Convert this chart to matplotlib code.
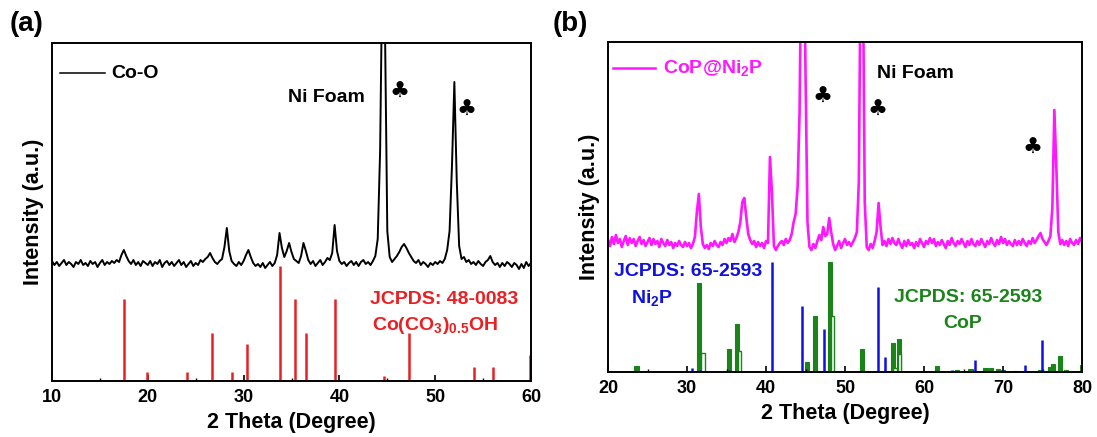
import matplotlib
matplotlib.use("Agg")
import matplotlib.pyplot as plt
import numpy as np

plt.rcParams['font.family'] = ['Liberation Sans', 'DejaVu Sans']
plt.rcParams['font.weight'] = 'bold'
plt.rcParams['mathtext.fontset'] = 'custom'
plt.rcParams['mathtext.rm'] = 'Liberation Sans:bold'
plt.rcParams['mathtext.bf'] = 'Liberation Sans:bold'
plt.rcParams['mathtext.default'] = 'bf'

# ---- panel (a): Co-O trace, 10..60 deg, step 0.25 (rows = one degree)
theta_a = np.arange(10, 60.001, 0.25)
coo = [
    120, 116, 119, 115,  118, 121, 116, 119,  117, 114, 119, 117,  121, 116, 118, 115,
    120, 117, 119, 114,  118, 121, 116, 119,  117, 120, 118, 121,  119, 126, 131, 125,
    120, 117, 121, 116,  119, 115, 120, 118,  116, 120, 115, 119,  117, 121, 114, 118,
    120, 116, 119, 115,  118, 121, 116, 119,  114, 117, 120, 115,  118, 116, 121, 119,
    122, 124, 128, 123,  119, 117, 120, 122,  134, 153, 130, 120,  117, 115, 119, 116,
    120, 126, 131, 124,  118, 115, 117, 114,  118, 113, 116, 119,  115, 118, 126, 148,
    133, 124, 130, 138,  129, 122, 120, 118,  125, 138, 130, 121,  117, 120, 115, 118,
    121, 116, 119, 123,  121, 128, 156, 130,  120, 117, 119, 115,  118, 120, 116, 119,
    115, 119, 121, 117,  119, 116, 120, 125,  142, 230, 430, 360,  150, 124, 119, 122,
    125, 129, 134, 137,  133, 128, 124, 120,  118, 121, 116, 119,  117, 114, 118, 116,
    119, 117, 120, 118,  122, 131, 150, 215,  299, 200, 135, 122,  124, 119, 121, 117,
    119, 116, 120, 117,  115, 119, 121, 125,  119, 116, 118, 114,  118, 115, 119, 117,
    114, 118, 116, 112,  117, 113, 119, 115,  118,
]

# JCPDS 48-0083 Co(CO3)0.5OH reference lines
ref_a_pos = [17.5, 19.95, 24.1, 26.7, 28.75, 30.4, 33.8, 35.4, 36.5, 39.5, 44.7, 47.3, 54.05, 56.0, 59.9]
ref_a_int = [82, 9, 9, 48, 9, 37, 115, 82, 48, 82, 5, 48, 14, 14, 26]

# ---- panel (b): CoP@Ni2P trace, 20..80 deg, step 0.25
theta_b = np.arange(20, 80.001, 0.25)
cop = [
    132, 126, 135, 128,  137, 129, 133, 125,  131, 136, 127, 134,  129, 133, 126, 131,
    135, 128, 132, 126,  130, 134, 127, 133,  128, 131, 125, 133,  129, 126, 132, 127,
    130, 124, 129, 126,  131, 127, 125, 130,  126, 129, 124, 128,  135, 160, 178, 145,
    128, 124, 127, 123,  129, 126, 131, 127,  125, 130, 127, 133,  129, 134, 131, 138,
    130, 134, 140, 150,  170, 174, 155, 138,  132, 128, 131, 125,  130, 126, 129, 124,
    131, 129, 215, 180,  126, 122, 126, 129,  131, 127, 133, 129,  132, 138, 150, 158,
    185, 260, 450, 480,  300, 150, 125, 122,  128, 124, 131, 137,  132, 145, 136, 138,
    154, 140, 128, 122,  126, 131, 124, 129,  133, 127, 130, 126,  130, 134, 140, 190,
    430, 420, 170, 125,  122, 128, 124, 131,  140, 169, 145, 127,  131, 126, 133, 128,
    134, 129, 127, 133,  128, 124, 131, 126,  132, 127, 129, 124,  130, 126, 133, 129,
    125, 131, 128, 134,  129, 133, 126, 130,  127, 132, 128, 124,  131, 127, 134, 129,
    126, 131, 128, 133,  129, 125, 131, 127,  133, 128, 126, 131,  127, 133, 129, 125,
    131, 128, 134, 129,  126, 132, 128, 135,  129, 133, 127, 131,  128, 126, 132, 127,
    131, 127, 133, 129,  126, 131, 128, 134,  129, 132, 136, 139,  133, 130, 127, 131,
    136, 165, 262, 205,  140, 128, 132, 127,  131, 126, 133, 129,  127, 132, 128, 134,
    130,
]

# Ni2P reference lines (blue)
ni2p_pos = [26.3, 30.6, 31.7, 35.4, 40.76, 44.6, 47.3, 54.2, 55.1, 63.5, 66.5, 70.0, 72.8, 74.9]
ni2p_int = [1, 4, 2, 2, 110, 66, 43, 85, 15, 2, 12, 2, 7, 32]

# CoP reference lines (green, filled)
cop_pos = [23.6, 31.55, 35.35, 36.33, 45.15, 46.2, 48.1, 52.15, 56.1, 56.8, 61.65, 64.2,
           65.9, 67.8, 68.5, 69.4, 70.0, 71.5, 74.7, 76.0, 76.3, 77.2, 78.0, 80.0]
cop_int = [6, 89, 23, 48, 10, 56, 110, 23, 29, 33, 6, 2, 3, 4, 4, 3, 2, 1, 2, 5, 8, 16, 2, 7]

# CoP reference lines (green, open)
cop2_pos = [32.0, 36.65, 48.4, 56.3, 56.9]
cop2_int = [19, 21, 56, 4, 18]

red = '#e82024'
blue = '#1010e0'
green = '#1a841a'
magenta = '#ff18ff'

fig = plt.figure(figsize=(10.97, 4.37), dpi=100)
ax1 = fig.add_axes([52 / 1097, 1 - 381 / 437, 479 / 1097, 338 / 437])
ax2 = fig.add_axes([608 / 1097, 1 - 372 / 437, 474 / 1097, 330 / 437])

for ax in (ax1, ax2):
    for s in ax.spines.values():
        s.set_linewidth(1.4)
    ax.set_yticks([])
    ax.tick_params(axis='x', direction='in', length=4, width=1.2, labelsize=13, pad=6)
    ax.tick_params(axis='x', which='minor', direction='in', length=2.5, width=1.0)
    ax.set_ylabel('Intensity (a.u.)', fontsize=15.5, fontweight='bold', labelpad=6)
    ax.set_xlabel('2 Theta (Degree)', fontsize=15.5, fontweight='bold', labelpad=4)

# panel (a)
ax1.vlines(ref_a_pos, 0, ref_a_int, color=red, lw=1.8)
ax1.plot(theta_a, coo, color='black', lw=1.4)
ax1.set_xlim(10, 60)
ax1.set_ylim(0, 338)
ax1.set_xticks(np.arange(10, 61, 10))
ax1.set_xticks(np.arange(15, 60, 10), minor=True)
ax1.plot([10.8, 15.5], [308, 308], color='black', lw=1.1)
ax1.text(16.2, 308, 'Co-O', fontsize=14, fontweight='bold', va='center', ha='left')
ax1.text(38.6, 284, 'Ni Foam', fontsize=14, fontweight='bold', ha='center', va='center')
ax1.text(46.3, 289, '\u2663', fontsize=16, ha='center', va='center', family=['DejaVu Sans'])
ax1.text(53.3, 271, '\u2663', fontsize=16, ha='center', va='center', family=['DejaVu Sans'])
ax1.text(50.9, 81, 'JCPDS: 48-0083', color=red, fontsize=14, fontweight='bold', ha='center', va='center')
ax1.text(50.0, 55, 'Co(CO$_3$)$_{0.5}$OH', color=red, fontsize=14, fontweight='bold', ha='center', va='center')

# panel (b)
ax2.bar(cop_pos, cop_int, width=0.55, color=green, edgecolor=green, lw=0.8)
ax2.bar(cop2_pos, cop2_int, width=0.45, facecolor='white', edgecolor=green, lw=1.0)
ax2.vlines(ni2p_pos, 0, ni2p_int, color=blue, lw=1.8)
ax2.plot(theta_b, cop, color=magenta, lw=1.9)
ax2.set_xlim(20, 80)
ax2.set_ylim(0, 330)
ax2.set_xticks(np.arange(20, 81, 10))
ax2.set_xticks(np.arange(25, 80, 10), minor=True)
ax2.plot([20.6, 26.0], [304, 304], color=magenta, lw=1.8)
ax2.text(27.0, 304, 'CoP@Ni$_2$P', color=magenta, fontsize=14, fontweight='bold', va='center', ha='left')
ax2.text(58.9, 298, 'Ni Foam', fontsize=14, fontweight='bold', ha='center', va='center')
for cx, cy in [(47.2, 275), (54.05, 262), (73.7, 224)]:
    ax2.text(cx, cy, '\u2663', fontsize=16, ha='center', va='center', family=['DejaVu Sans'])
ax2.text(30.1, 100, 'JCPDS: 65-2593', color=blue, fontsize=14, fontweight='bold', ha='center', va='center')
ax2.text(25.6, 74, 'Ni$_2$P', color=blue, fontsize=14, fontweight='bold', ha='center', va='center')
ax2.text(65.6, 75, 'JCPDS: 65-2593', color=green, fontsize=14, fontweight='bold', ha='center', va='center')
ax2.text(64.9, 49, 'CoP', color=green, fontsize=14, fontweight='bold', ha='center', va='center')

fig.text(10 / 1097, 1 - 24 / 437, '(a)', fontsize=20, fontweight='bold', va='center', ha='left')
fig.text(553 / 1097, 1 - 24 / 437, '(b)', fontsize=20, fontweight='bold', va='center', ha='left')

fig.savefig('out.png', dpi=100)
